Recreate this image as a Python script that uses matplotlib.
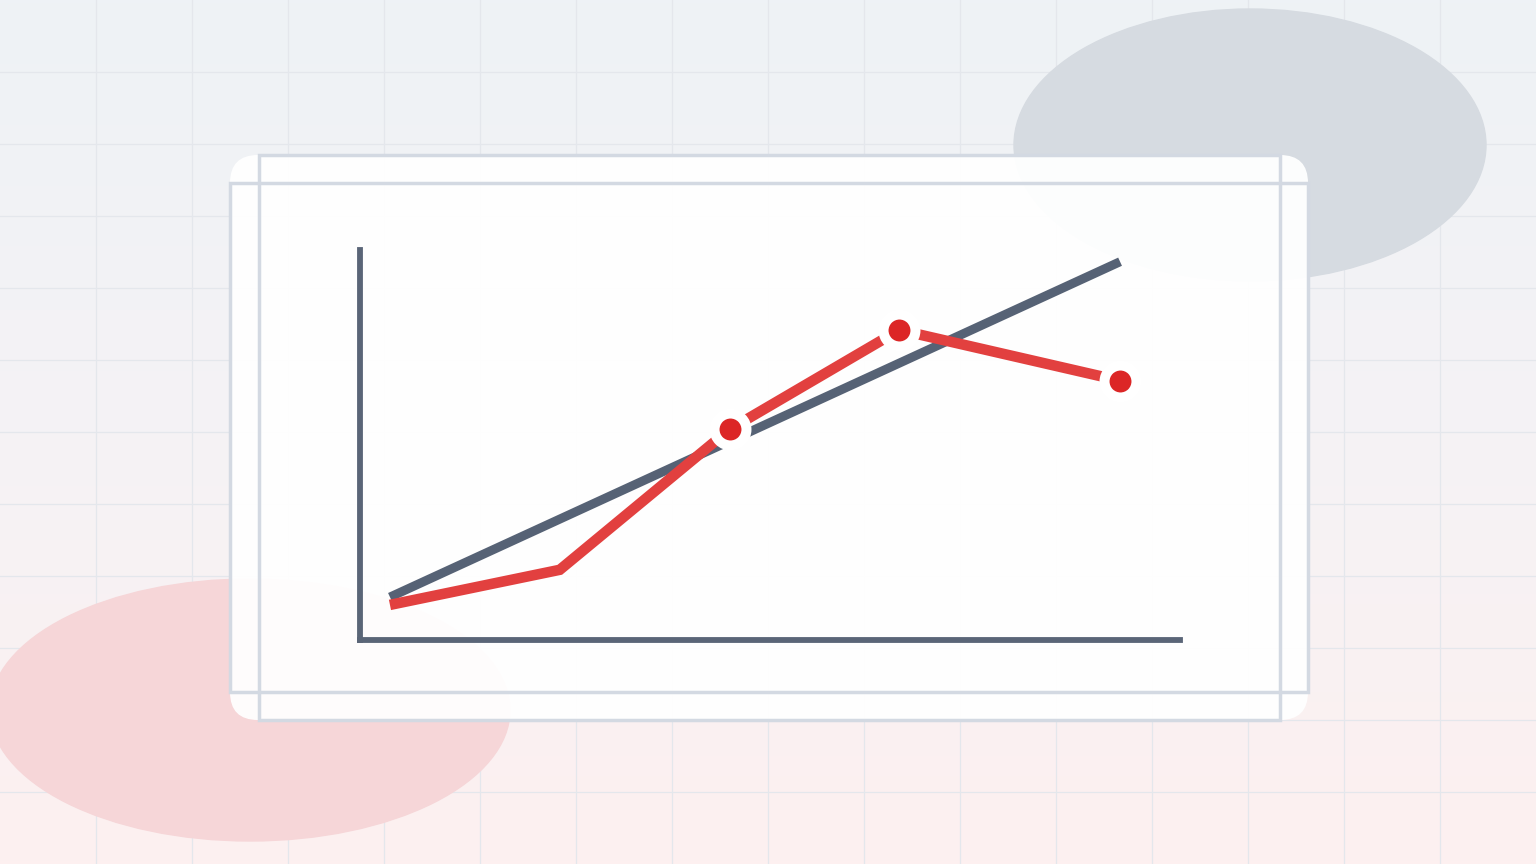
import numpy as np
import matplotlib
matplotlib.use("Agg")
from matplotlib import pyplot as plt
from matplotlib.patches import Ellipse, FancyBboxPatch, Rectangle
from matplotlib.colors import LinearSegmentedColormap

# datos de la grafica
x_vals = [0, 1, 2, 3, 4.3]
serie_gris = [11, 31, 51, 71, 97]
serie_roja = [9, 18, 54, 79.5, 66.5]
marcas_rojas = [2, 3, 4]  # indices con marcador

W, H = 1536, 864
fig = plt.figure(figsize=(W / 100, H / 100), dpi=100)

# fondo en coordenadas de pixel
fondo = fig.add_axes([0, 0, 1, 1])
fondo.set_xlim(0, W)
fondo.set_ylim(H, 0)
fondo.axis("off")

cmap = LinearSegmentedColormap.from_list("bg", ["#eef2f6", "#f5f3f5", "#fdf0f0"])
grad = np.linspace(0, 1, 256).reshape(-1, 1)
fondo.imshow(grad, cmap=cmap, extent=[0, W, H, 0], aspect="auto", zorder=0)

for gx in range(96, W, 96):
    fondo.axvline(gx, color="#e4e7ec", lw=0.9, zorder=1)
for gy in range(72, H, 72):
    fondo.axhline(gy, color="#e4e7ec", lw=0.9, zorder=1)

fondo.add_patch(Ellipse((1250, 145), 472, 272, color="#d6dbe1", zorder=2))
fondo.add_patch(Ellipse((250, 710), 520, 262, color="#f6d6d8", zorder=2))

# tarjeta blanca
tarjeta = FancyBboxPatch((230 + 28, 155 + 28), 1078 - 56, 565 - 56,
                         boxstyle="round,pad=28", fc="white", ec="none",
                         alpha=0.95, zorder=3)
fondo.add_patch(tarjeta)
fondo.add_patch(Rectangle((259, 155), 1021, 565, fill=False, ec="#d3d9e2", lw=2.5, zorder=4))
fondo.add_patch(Rectangle((230, 183), 1078, 509, fill=False, ec="#d3d9e2", lw=2.5, zorder=4))

# grafica
ax = fig.add_axes([360 / W, (H - 640) / H, 820 / W, 390 / H])
ax.patch.set_alpha(0)
ax.set_xlim(-30 / 170, 4.3 + 60 / 170)
ax.set_ylim(0, 100)
for lado in ["top", "right"]:
    ax.spines[lado].set_visible(False)
for lado in ["left", "bottom"]:
    ax.spines[lado].set_color("#5a6577")
    ax.spines[lado].set_linewidth(4.2)
ax.set_xticks([])
ax.set_yticks([])

ax.plot(x_vals, serie_gris, color="#566275", lw=6.5, solid_capstyle="butt", zorder=3)
ax.plot(x_vals, serie_roja, color="#e2403f", lw=7.6, solid_capstyle="butt",
        solid_joinstyle="miter", zorder=4)
ax.plot([x_vals[i] for i in marcas_rojas], [serie_roja[i] for i in marcas_rojas],
        linestyle="none", marker="o", markersize=23, markerfacecolor="#dc2626",
        markeredgecolor="white", markeredgewidth=7.2, zorder=5, clip_on=False)

fig.savefig("out.png", dpi=100)
